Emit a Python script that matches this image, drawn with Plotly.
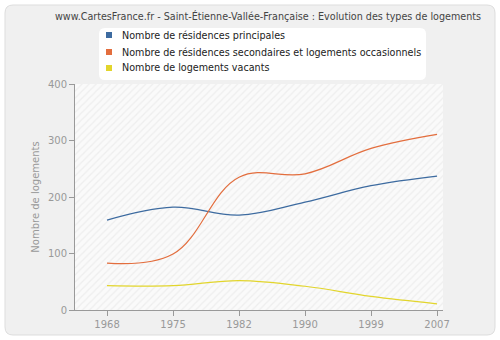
import plotly.graph_objects as go

years = ["1968", "1975", "1982", "1990", "1999", "2007"]
principales = [159, 182, 168, 191, 220, 237]
secondaires = [83, 99, 235, 241, 286, 311]
vacants = [43, 43, 52, 42, 24, 11]
y_ticks = [0, 100, 200, 300, 400]

names = [
    "Nombre de résidences principales",
    "Nombre de résidences secondaires et logements occasionnels",
    "Nombre de logements vacants",
]
colors = ["#3d6ba0", "#e36e3e", "#e2d52c"]
series = [principales, secondaires, vacants]

L, R, T, B = 75, 57, 84, 30
W, H = 500, 340
pw, ph = W - L - R, H - T - B
FONT = "DejaVu Sans, Verdana, sans-serif"

def px_x(p):
    return (p - L) / pw

def px_y(p):
    return (H - B - p) / ph

def rrect(xa, ya, xb, yb, r):
    x0, x1 = px_x(xa), px_x(xb)
    y0, y1 = px_y(yb), px_y(ya)
    rx, ry = r / pw, r / ph
    return (f"M {x0+rx},{y0} L {x1-rx},{y0} Q {x1},{y0} {x1},{y0+ry} "
            f"L {x1},{y1-ry} Q {x1},{y1} {x1-rx},{y1} L {x0+rx},{y1} "
            f"Q {x0},{y1} {x0},{y1-ry} L {x0},{y0+ry} Q {x0},{y0} {x0+rx},{y0} Z")

fig = go.Figure()

# hatched plot background
fig.add_trace(go.Scatter(
    x=[-0.5, 5.1, 5.1, -0.5, -0.5], y=[0, 0, 400, 400, 0],
    mode="lines", line=dict(width=0), fill="toself",
    fillcolor="rgba(0,0,0,0)",
    fillpattern=dict(shape="/", fgcolor="#e2e2e2", bgcolor="#fafafa", size=5, solidity=0.25),
    hoverinfo="skip", showlegend=False,
))

for n, c, s in zip(names, colors, series):
    fig.add_trace(go.Scatter(
        x=list(range(len(years))), y=s, mode="lines",
        line=dict(color=c, width=1.2, shape="spline", smoothing=1.1),
        showlegend=False, name=n,
    ))

shapes = [
    dict(type="path", path=rrect(5, 5, 495, 335, 8), xref="paper", yref="paper",
         fillcolor="#f0f0f0", line=dict(color="#dddddd", width=1), layer="below"),
    dict(type="path", path=rrect(99, 28, 426, 80, 6), xref="paper", yref="paper",
         fillcolor="white", line=dict(width=0), layer="below"),
]
annotations = []
leg_y = [35, 52, 68]
for n, c, yy in zip(names, colors, leg_y):
    shapes.append(dict(type="rect", xref="paper", yref="paper",
                       x0=px_x(106), x1=px_x(112), y0=px_y(yy + 3), y1=px_y(yy - 3),
                       fillcolor=c, line=dict(width=0)))
    annotations.append(dict(text=n, xref="paper", yref="paper", x=px_x(120), y=px_y(yy),
                            xanchor="left", yanchor="middle", showarrow=False,
                            font=dict(family=FONT, size=9.6, color="#222222")))

fig.update_layout(
    width=W, height=H,
    margin=dict(l=L, r=R, t=T, b=B, autoexpand=False),
    paper_bgcolor="white",
    plot_bgcolor="rgba(0,0,0,0)",
    font=dict(family=FONT, size=10, color="#999999"),
    showlegend=False,
    title=dict(
        text="www.CartesFrance.fr - Saint-Étienne-Vallée-Française : Evolution des types de logements",
        x=px_x(268), xref="paper", xanchor="center", y=1 - 17 / H, yanchor="middle",
        font=dict(family=FONT, size=9.6, color="#444444"),
    ),
    shapes=shapes,
    annotations=annotations,
    xaxis=dict(
        type="linear", range=[-0.485, 5.09],
        tickmode="array", tickvals=list(range(len(years))), ticktext=years,
        showgrid=True, gridcolor="#e3e3e3", griddash="dash", gridwidth=1,
        showline=True, linecolor="#999999", linewidth=1,
        ticks="outside", ticklen=5, tickcolor="#999999",
        zeroline=False, tickfont=dict(size=10, color="#999999"),
    ),
    yaxis=dict(
        range=[0, 400], tickvals=y_ticks,
        showgrid=True, gridcolor="#e3e3e3", griddash="dash", gridwidth=1,
        showline=True, linecolor="#999999", linewidth=1,
        ticks="outside", ticklen=5, tickcolor="#999999",
        zeroline=False, tickfont=dict(size=10, color="#999999"),
        title=dict(text="Nombre de logements", font=dict(size=10, color="#999999"), standoff=6),
    ),
)

fig.write_html("out.html")
